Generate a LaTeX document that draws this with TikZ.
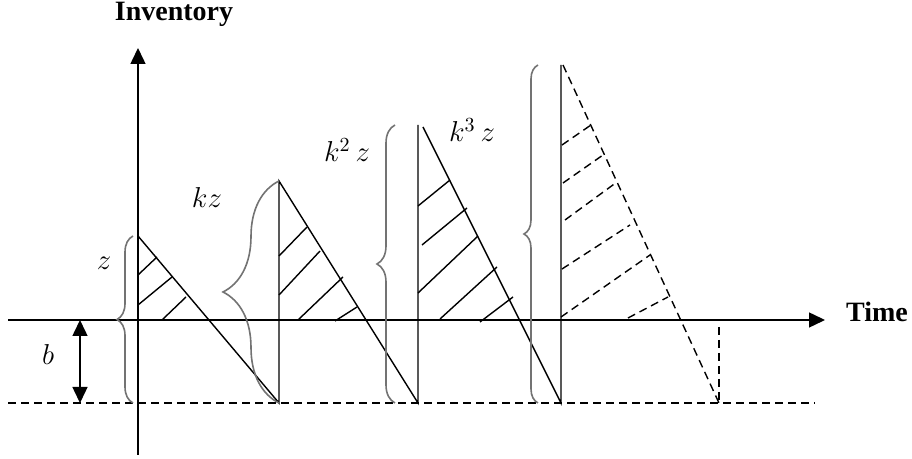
\documentclass[tikz,border=0pt]{standalone}
\usepackage{fontspec}
\setmainfont{Liberation Serif}
\usetikzlibrary{arrows.meta,decorations.pathreplacing}
\definecolor{bracecol}{gray}{0.45}
\tikzset{
  axl/.style={line width=0.75pt},
  saw/.style={line width=0.7pt},
  hatch/.style={line width=0.7pt},
  dsh/.style={line width=0.7pt,dash pattern=on 4pt off 2.5pt},
  brc/.style={draw=bracecol,line width=0.8pt,decorate,decoration={brace,amplitude=#1}},
  mlab/.style={font=\fontsize{14}{16}\selectfont,anchor=base,inner sep=0pt},
  axlab/.style={font=\fontsize{14}{16}\selectfont\bfseries,anchor=base,inner sep=0pt},
}

\begin{document}
\begin{tikzpicture}[x=0.5pt,y=0.5pt,>={Triangle[length=8pt,width=7.5pt]}]
  \useasboundingbox (0,0) rectangle (912,-459);
  % axes
  \coordinate (xs) at (8,-320);
  \coordinate (xe) at (825,-320);
  \coordinate (ys) at (138,-455);
  \coordinate (ye) at (138,-48);
  \draw[axl,->] (xs) -- (xe);
  \draw[axl,->] (ys) -- (ye);
  \node[axlab] (tim) at (877,-322) {Time};
  \node[axlab] (inv) at (174,-21) {Inventory};
  % backorder level
  \coordinate (bl) at (8,-403);
  \coordinate (br) at (815,-403);
  \draw[dsh] (bl) -- (br);
  \coordinate (b0) at (80,-320);
  \coordinate (b1) at (80,-403);
  \draw[axl,<->] (b0) -- (b1);
  \node[mlab] (blab) at (48,-365) {$b$};
  % cycles
  \coordinate (t1) at (138,-236);
  \coordinate (f1) at (279,-403);
  \coordinate (t2) at (279,-181);
  \coordinate (f2) at (418,-403);
  \coordinate (t3) at (418,-125);
  \coordinate (s3) at (423,-127);
  \coordinate (f3) at (561,-403);
  \coordinate (t4) at (561,-65);
  \coordinate (s4) at (563,-65);
  \coordinate (f4) at (719,-403);
  \coordinate (g4) at (719,-327);
  \draw[saw] (t1) -- (f1) -- (t2) -- (f2) -- (t3);
  \draw[saw] (s3) -- (f3) -- (t4);
  \draw[dsh] (s4) -- (f4);
  \draw[dsh] (g4) -- (f4);
  % hatching
  \draw[hatch] (138,-275) -- (157,-257);
  \draw[hatch] (138,-305) -- (172,-277);
  \draw[hatch] (162,-320) -- (186,-297);
  \draw[hatch] (279,-256) -- (307,-227);
  \draw[hatch] (279,-295) -- (320,-251);
  \draw[hatch] (298,-320) -- (343,-277);
  \draw[hatch] (335,-321) -- (357,-307);
  \draw[hatch] (418,-206) -- (450,-180);
  \draw[hatch] (422,-245) -- (467,-208);
  \draw[hatch] (418,-293) -- (478,-236);
  \draw[hatch] (440,-319) -- (497,-267);
  \draw[hatch] (480,-322) -- (513,-297);
  \draw[dsh] (562,-145) -- (591,-125);
  \draw[dsh] (563,-183) -- (603,-155);
  \draw[dsh] (565,-220) -- (617,-182);
  \draw[dsh] (562,-269) -- (630,-225);
  \draw[dsh] (561,-317) -- (650,-255);
  \draw[dsh] (628,-318) -- (668,-297);
  % braces
  \draw[brc=8pt] (133,-403) -- (133,-236);
  \draw[brc=28pt] (279,-403) -- (279,-181);
  \draw[brc=9pt] (395,-403) -- (395,-125);
  \draw[brc=7pt] (538,-403) -- (538,-65);
  \node[mlab] (lz) at (104,-270) {$z$};
  \node[mlab] (lkz) at (207,-208) {$kz$};
  \node[mlab] (lk2) at (347,-162) {$k^{2}\,z$};
  \node[mlab] (lk3) at (472,-142) {$k^{3}\,z$};
\end{tikzpicture}
\end{document}
